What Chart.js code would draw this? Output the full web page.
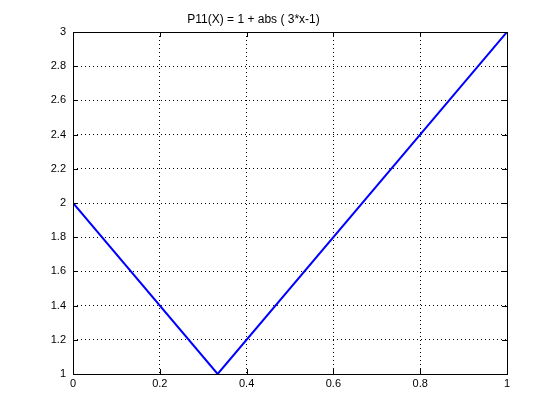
<!DOCTYPE html>
<html lang="en">
<head>
  <meta charset="UTF-8" />
  <title>P11(X)</title>
  <script src="https://cdn.jsdelivr.net/npm/chart.js"></script>
  <style>
    html, body { margin: 0; padding: 0; background: #fff; }
    #wrap { width: 560px; height: 420px; }
  </style>
</head>
<body>
  <div id="wrap"><canvas id="plot" width="560" height="420"></canvas></div>
  <script>
    const xValues = [0, 0.3333, 1];
    const yValues = [2, 1, 3];
    const titleText = 'P11(X) = 1 + abs ( 3*x-1)';

    const points = xValues.map((x, i) => ({ x: x, y: yValues[i] }));
    const fmt = v => String(Math.round(v * 10) / 10);

    // matlab style box with inward ticks
    const boxPlugin = {
      id: 'box',
      afterDraw(chart) {
        const { ctx, chartArea: a, scales } = chart;
        ctx.save();
        ctx.strokeStyle = '#000';
        ctx.lineWidth = 1;
        ctx.strokeRect(a.left + 0.5, a.top + 0.5, a.right - a.left, a.bottom - a.top);
        ctx.beginPath();
        scales.x.ticks.forEach(t => {
          const px = Math.round(scales.x.getPixelForValue(t.value)) + 0.5;
          ctx.moveTo(px, a.bottom); ctx.lineTo(px, a.bottom - 5);
          ctx.moveTo(px, a.top); ctx.lineTo(px, a.top + 5);
        });
        scales.y.ticks.forEach(t => {
          const py = Math.round(scales.y.getPixelForValue(t.value)) + 0.5;
          ctx.moveTo(a.left, py); ctx.lineTo(a.left + 5, py);
          ctx.moveTo(a.right, py); ctx.lineTo(a.right - 5, py);
        });
        ctx.stroke();
        ctx.restore();
      }
    };

    new Chart(document.getElementById('plot'), {
      type: 'scatter',
      data: {
        datasets: [{
          data: points,
          showLine: true,
          borderColor: '#0000ff',
          borderWidth: 2,
          pointRadius: 0,
          tension: 0
        }]
      },
      options: {
        responsive: false,
        animation: false,
        layout: { padding: { left: 0, right: 53, top: 0, bottom: 0 } },
        plugins: {
          legend: { display: false },
          tooltip: { enabled: false },
          title: {
            display: true,
            text: titleText,
            color: '#000',
            font: { family: 'Liberation Sans', size: 12, weight: 'normal' },
            padding: { top: 12, bottom: 5.6 }
          }
        },
        scales: {
          x: {
            type: 'linear',
            min: 0, max: 1,
            afterFit: s => { s.height = 46; },
            ticks: {
              stepSize: 0.2,
              color: '#000',
              padding: 3,
              maxRotation: 0,
              font: { family: 'Liberation Sans', size: 11 },
              callback: fmt
            },
            grid: { color: '#000', drawTicks: false, tickLength: 0 },
            border: { display: false, dash: [1, 3] }
          },
          y: {
            min: 1, max: 3,
            afterFit: s => { s.width = 73; },
            ticks: {
              stepSize: 0.2,
              color: '#000',
              padding: 7,
              font: { family: 'Liberation Sans', size: 11 },
              callback: fmt
            },
            grid: { color: '#000', drawTicks: false, tickLength: 0 },
            border: { display: false, dash: [1, 3] }
          }
        }
      },
      plugins: [boxPlugin]
    });
  </script>
</body>
</html>
